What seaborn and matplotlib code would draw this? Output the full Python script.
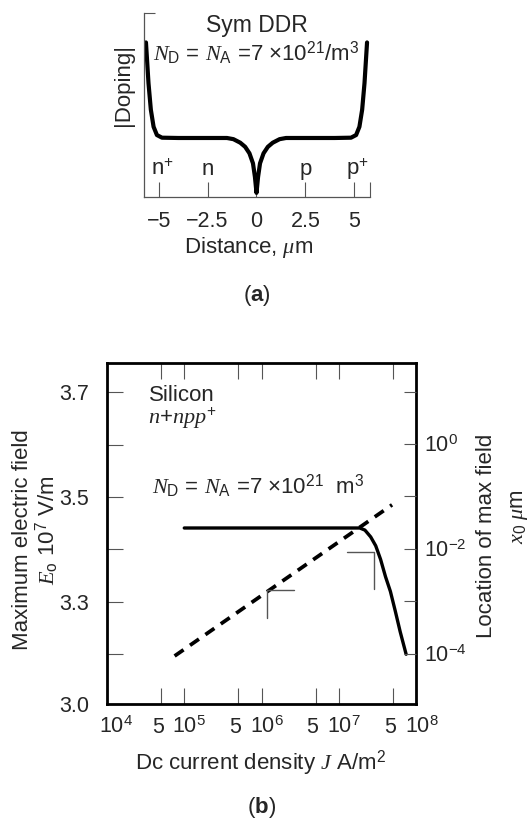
import numpy as np
import pandas as pd
import matplotlib
matplotlib.use("Agg")
import matplotlib.pyplot as plt
import matplotlib.transforms as mtransforms
from matplotlib.ticker import NullLocator
import seaborn as sns

# ---------------- data: panel (a) doping profile ----------------
distance_um = [-5.65, -5.52, -5.40, -5.26, -5.09, -4.83, -4.0, -3.0, -2.0, -1.51,
               -1.18, -0.83, -0.58, -0.36, -0.18, -0.08, 0.0,
               0.08, 0.18, 0.36, 0.58, 0.83, 1.18, 1.51, 2.0, 3.0, 4.0,
               4.83, 5.09, 5.26, 5.40, 5.52, 5.65]
doping_rel = [2.62, 1.93, 1.48, 1.19, 1.05, 1.005, 1.0, 1.0, 1.0, 1.0,
              0.98, 0.92, 0.85, 0.74, 0.57, 0.34, 0.07,
              0.34, 0.57, 0.74, 0.85, 0.92, 0.98, 1.0, 1.0, 1.0, 1.0,
              1.005, 1.05, 1.19, 1.48, 1.93, 2.62]
a_xticks = [-5, -2.5, 0, 2.5, 5, 5.8]
a_xticklabels = ["\u22125", "\u22122.5", "0", "2.5", "5", ""]
region_labels = ["n$^{+}$", "n", "p", "p$^{+}$"]
region_x = [-4.82, -2.5, 2.5, 5.18]

# ---------------- data: panel (b) ----------------
J_E = [1.0e5, 1.0e6, 1.0e7, 1.87e7, 2.18e7, 2.59e7, 3.01e7, 3.48e7,
       4.03e7, 4.66e7, 5.40e7, 6.24e7, 7.45e7]
E0 = [3.441, 3.441, 3.441, 3.441, 3.437, 3.424, 3.407, 3.381,
      3.348, 3.320, 3.282, 3.243, 3.200]
J_x = [7.5e4, 4.9e7]
x0 = [9.0e-5, 6.9e-2]

b_xticks = [1e4, 5e4, 1e5, 5e5, 1e6, 5e6, 1e7, 5e7, 1e8]
b_xticklabels = ["10$^4$", "5", "10$^5$", "5", "10$^6$", "5", "10$^7$", "5", "10$^8$"]
b_lticks = [3.105, 3.2, 3.3, 3.4, 3.5, 3.6, 3.7]
b_lticklabels = ["3.0", "", "3.3", "", "3.5", "", "3.7"]
b_rticks = [1e-4, 1e-3, 1e-2, 1e-1, 1e0, 1e1]
b_rticklabels = ["10$^{-4}$", "", "10$^{-2}$", "", "10$^{0}$", ""]

# axis-indicator glyphs (corner marks) in data coordinates
mark_right_J = [2.6e6, 1.19e6, 1.19e6]
mark_right_x0 = [1.64e-3, 1.64e-3, 4.8e-4]
mark_left_J = [1.26e7, 2.83e7, 2.83e7]
mark_left_E = [3.396, 3.396, 3.325]

# ---------------- style ----------------
sns.set_style("white")
plt.rcParams["font.family"] = ["Liberation Sans", "DejaVu Sans"]
plt.rcParams["mathtext.fontset"] = "custom"
plt.rcParams["mathtext.rm"] = "Liberation Sans"
plt.rcParams["mathtext.sf"] = "Liberation Sans"
plt.rcParams["mathtext.it"] = "Liberation Serif:italic"
plt.rcParams["mathtext.bf"] = "Liberation Sans:bold"
FS = 16
TFS = 15.5
GRAY = "#555555"

fig = plt.figure(figsize=(5.29, 8.19), dpi=100)

# ================= panel (a) =================
ax_a = fig.add_axes([0.2722, 0.7595, 0.4272, 0.2247])
df_a = pd.DataFrame({"x": distance_um, "y": doping_rel})
sns.lineplot(data=df_a, x="x", y="y", ax=ax_a, color="black", lw=3.0,
             estimator=None, sort=False, legend=False)
ax_a.set_xlim(-5.75, 5.8)
ax_a.set_ylim(0, 3.12)
for s in ["top", "right"]:
    ax_a.spines[s].set_visible(False)
for s in ["left", "bottom"]:
    ax_a.spines[s].set_color(GRAY)
    ax_a.spines[s].set_linewidth(0.9)
ax_a.set_xticks(a_xticks)
ax_a.set_xticklabels(a_xticklabels)
ax_a.set_yticks([3.12])
ax_a.set_yticklabels([""])
ax_a.tick_params(axis="x", direction="in", length=11, width=0.8, color=GRAY,
                 pad=10, labelsize=TFS, bottom=True)
ax_a.tick_params(axis="y", direction="in", length=8, width=0.8, color=GRAY,
                 left=True)
ax_a.set_xlabel("")
ax_a.set_ylabel("")
for lab, xx in zip(region_labels, region_x):
    ax_a.text(xx, 0.373, lab, ha="center", va="baseline", fontsize=FS)
ax_a.text(0, 2.915, "Sym DDR", ha="center", va="center", fontsize=16.5)
ax_a.text(0, 2.44, r"$N_\mathrm{D}$ = $N_\mathrm{A}$ =7 $\times$10$^{21}$/m$^3$",
          ha="center", va="center", fontsize=FS)
fig.text(123.3 / 529, 1 - 85 / 819, "|Doping|", rotation=90, ha="center",
         va="center", fontsize=FS)
fig.text(249 / 529, 1 - 248 / 819, r"Distance, $\mu$m", ha="center",
         va="center", fontsize=FS)
fig.text(257 / 529, 1 - 296 / 819, r"($\mathbf{a}$)", ha="center",
         va="center", fontsize=FS)

# ================= panel (b) =================
ax = fig.add_axes([0.2023, 0.1404, 0.5841, 0.4164])
ax2 = ax.twinx()

df_E = pd.DataFrame({"J": J_E, "E0": E0})
df_x = pd.DataFrame({"J": J_x, "x0": x0})
sns.lineplot(data=df_E, x="J", y="E0", ax=ax, color="black", lw=2.4,
             estimator=None, sort=False, legend=False)
sns.lineplot(data=df_x, x="J", y="x0", ax=ax2, color="black", lw=2.7,
             linestyle=(0, (2.9, 2.1)), estimator=None, sort=False, legend=False)
ax.plot(mark_left_J, mark_left_E, color=GRAY, lw=1.0)
ax2.plot(mark_right_J, mark_right_x0, color=GRAY, lw=1.0)

ax.set_xscale("log")
ax.set_xlim(1e4, 1e8)
ax.set_ylim(3.105, 3.756)
ax2.set_yscale("log")
ax2.set_ylim(10 ** -4.962, 10 ** 1.546)
ax2.set_xlim(1e4, 1e8)

ax.set_xticks(b_xticks)
ax.set_xticklabels(b_xticklabels)
ax.xaxis.set_minor_locator(NullLocator())
ax.set_yticks(b_lticks)
ax.set_yticklabels(b_lticklabels)
ax.yaxis.set_minor_locator(NullLocator())
ax2.set_yticks(b_rticks)
ax2.set_yticklabels(b_rticklabels)
ax2.yaxis.set_minor_locator(NullLocator())

ax.tick_params(axis="x", which="major", direction="in", length=11.5, width=0.8,
               color=GRAY, top=True, bottom=True, labeltop=False, pad=9,
               labelsize=TFS)
ax.tick_params(axis="y", which="major", direction="in", length=11.5, width=0.8,
               color=GRAY, left=True, pad=13, labelsize=TFS)
ax2.tick_params(axis="y", which="major", direction="in", length=9, width=0.8,
                color=GRAY, right=True, pad=6, labelsize=TFS)

# nudge x tick labels horizontally as in the original ("5" left, "10^n" right)
label_dx_px = [9, -3, 5, -3, 5, -3, 5, -3, 6]
for lbl, dx in zip(ax.get_xticklabels(), label_dx_px):
    off = mtransforms.ScaledTranslation(dx / 100.0, 0, fig.dpi_scale_trans)
    lbl.set_transform(lbl.get_transform() + off)

ax.set_xlabel("")
ax.set_ylabel("")
ax2.set_ylabel("")
for s in ax.spines.values():
    s.set_linewidth(2.0)
    s.set_color("black")
for s in ax2.spines.values():
    s.set_visible(False)

fig.text(149 / 529, 1 - 395 / 819, "Silicon", ha="left", va="center", fontsize=FS)
fig.text(148 / 529, 1 - 418 / 819, r"$n{+}npp^{+}$", ha="left", va="center",
         fontsize=FS)
fig.text(152 / 529, 1 - 486 / 819,
         r"$N_\mathrm{D}$ = $N_\mathrm{A}$ =7 $\times$10$^{21}$  m$^3$",
         ha="left", va="center", fontsize=FS)

fig.text(23 / 529, 1 - 540 / 819, "Maximum electric field", rotation=90,
         ha="center", va="center", fontsize=FS)
fig.text(47 / 529, 1 - 530 / 819, r"$E_\mathrm{o}$ 10$^7$ V/m", rotation=90,
         ha="center", va="center", fontsize=FS)
fig.text(487 / 529, 1 - 536 / 819, "Location of max field", rotation=90,
         ha="center", va="center", fontsize=FS)
fig.text(519 / 529, 1 - 517 / 819, r"$x_0\ \mu$m", rotation=90,
         ha="center", va="center", fontsize=FS)
fig.text(261 / 529, 1 - 763 / 819, r"Dc current density $J$ A/m$^2$",
         ha="center", va="center", fontsize=FS)
fig.text(262 / 529, 1 - 807 / 819, r"($\mathbf{b}$)", ha="center", va="center",
         fontsize=FS)

fig.savefig("out.png", dpi=100)
